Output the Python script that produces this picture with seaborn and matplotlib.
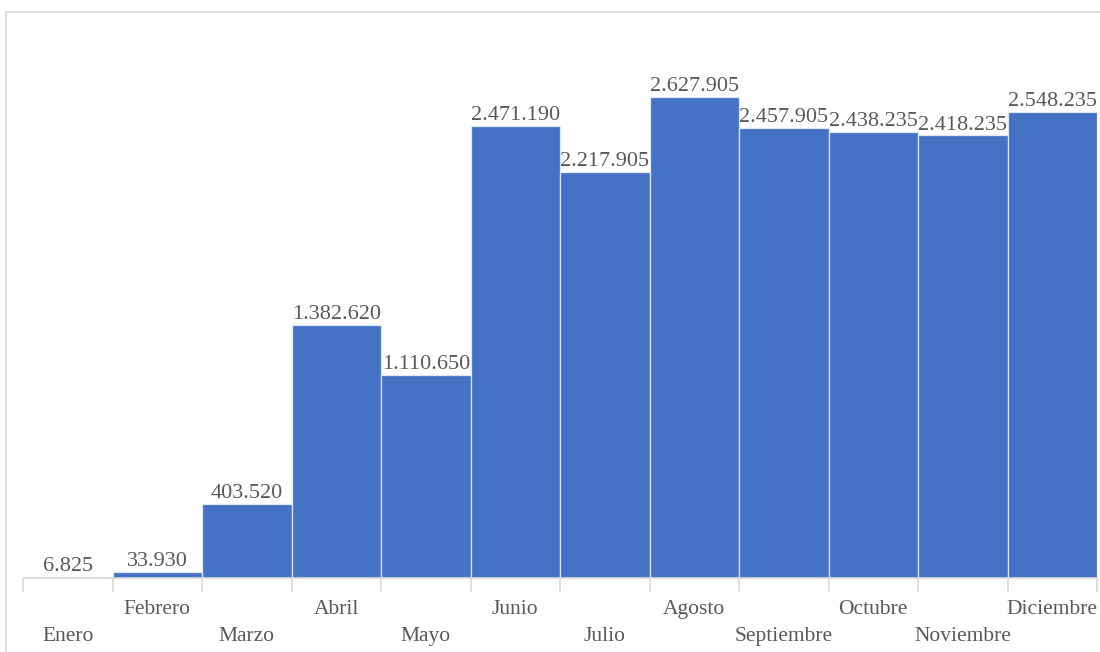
import matplotlib
matplotlib.use("Agg")
import matplotlib.pyplot as plt
import seaborn as sns
import pandas as pd
from matplotlib.patches import Rectangle

meses = ["Enero", "Febrero", "Marzo", "Abril", "Mayo", "Junio", "Julio",
         "Agosto", "Septiembre", "Octubre", "Noviembre", "Diciembre"]
valores = [6825, 33930, 403520, 1382620, 1110650, 2471190, 2217905,
           2627905, 2457905, 2438235, 2418235, 2548235]

sns.set_theme(style="white")
plt.rcParams['font.family'] = ['Liberation Serif', 'DejaVu Serif']

W, H = 1100, 652
fig = plt.figure(figsize=(W / 100, H / 100), dpi=100)
ax = fig.add_axes([23 / W, (H - 578) / H, 1074 / W, 481 / H])

df = pd.DataFrame({"mes": meses, "valor": valores})
sns.barplot(data=df, x="mes", y="valor", color="#4472C4", saturation=1,
            width=1.0, edgecolor="#dfe6f2", linewidth=0.9, ax=ax)

ax.set_xlim(-0.5, len(meses) - 0.5)
ax.set_ylim(0, max(valores))
for s in ["top", "right", "left"]:
    ax.spines[s].set_visible(False)
ax.spines["bottom"].set_color("#d9d9d9")
ax.spines["bottom"].set_linewidth(1.2)
ax.set_yticks([])
ax.set_xlabel("")
ax.set_ylabel("")

# ticks at bar boundaries
ax.set_xticks([i - 0.5 for i in range(len(meses) + 1)])
ax.set_xticklabels([])
ax.tick_params(axis="x", which="major", length=10, width=1.2, color="#d9d9d9",
               direction="out", bottom=True)

txt_color = "#595959"
fs_val = 16
fs_lab = 15.5
for i, (m, v) in enumerate(zip(meses, valores)):
    lab = f"{v:,}".replace(",", ".")
    ax.annotate(lab, xy=(i, v), xytext=(0, 0.5), textcoords="offset points",
                ha="center", va="bottom", fontsize=fs_val, color=txt_color,
                annotation_clip=False)
    off = -23 if i % 2 == 1 else -42
    ax.annotate(m, xy=(i, 0), xycoords=("data", "axes fraction"),
                xytext=(0, off), textcoords="offset points",
                ha="center", va="center", fontsize=fs_lab, color=txt_color,
                annotation_clip=False)

# outer light frame (top and left visible)
fig.patches.append(Rectangle((6 / W, -0.1), 1.2, (H - 12) / H + 0.1,
                             transform=fig.transFigure, fill=False,
                             edgecolor="#d9d9d9", linewidth=1.2))

fig.savefig("out.png", dpi=100)
